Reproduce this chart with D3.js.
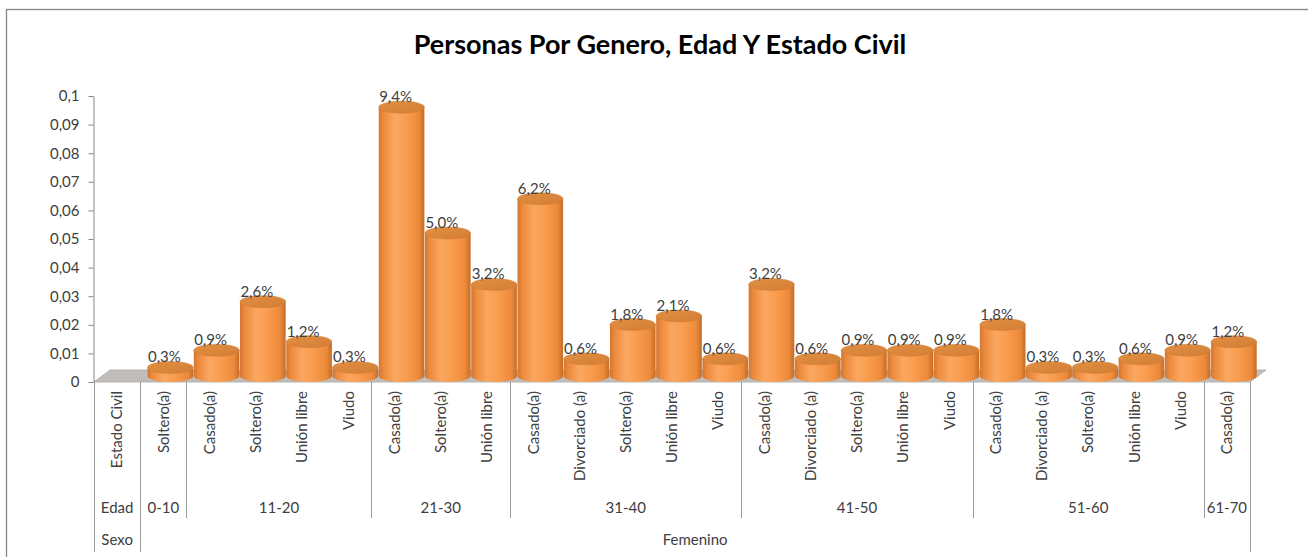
<!DOCTYPE html>
<html>
<head>
<meta charset="utf-8">
<script src="https://cdn.jsdelivr.net/npm/d3@7"></script>
<style>
  html, body { margin: 0; padding: 0; background: #ffffff; }
  svg { display: block; }
  text { font-family: Lato, "Open Sans", sans-serif; }
</style>
</head>
<body>
<svg id="chart" width="1308" height="557"></svg>
<script>
// ---- data ----
const title = "Personas Por Genero, Edad Y Estado Civil";
const estadoCivil = ["Estado Civil","Soltero(a)","Casado(a)","Soltero(a)","Unión libre","Viudo",
  "Casado(a)","Soltero(a)","Unión libre",
  "Casado(a)","Divorciado (a)","Soltero(a)","Unión libre","Viudo",
  "Casado(a)","Divorciado (a)","Soltero(a)","Unión libre","Viudo",
  "Casado(a)","Divorciado (a)","Soltero(a)","Unión libre","Viudo",
  "Casado(a)"];
const values = [null,0.003,0.009,0.026,0.012,0.003,
  0.094,0.050,0.032,
  0.062,0.006,0.018,0.021,0.006,
  0.032,0.006,0.009,0.009,0.009,
  0.018,0.003,0.003,0.006,0.009,
  0.012];
const edadLabels = ["0-10","11-20","21-30","31-40","41-50","51-60","61-70"];
const edadCounts = [1,4,3,5,5,5,1];
const sexoLabel = "Femenino";
const yTicks = [0,0.01,0.02,0.03,0.04,0.05,0.06,0.07,0.08,0.09,0.1];

// ---- layout ----
const svg = d3.select("#chart");
const x0 = 94, x1 = 1250, yBase = 382, yTop = 96;
const depthX = 16, depthY = 12;
const FS = 15;
const locale = d3.formatLocale({decimal: ",", thousands: ".", grouping: [3], currency: ["", "€"]});
const fmtTick = locale.format("~g");
const fmtPct = locale.format(".1%");

const x = d3.scaleBand().domain(d3.range(estadoCivil.length)).range([x0, x1]).padding(0);
const y = d3.scaleLinear().domain([0, 0.1]).range([yBase, yTop]);

// defs
const defs = svg.append("defs");
const gBody = defs.append("linearGradient").attr("id", "body").attr("x1", "0").attr("x2", "1").attr("y1", "0").attr("y2", "0");
[[0,"#d27630"],[0.1,"#ec8a3c"],[0.35,"#fba760"],[0.6,"#f99c4e"],[0.88,"#ec8a3a"],[1,"#c46c27"]]
  .forEach(([o,c]) => gBody.append("stop").attr("offset", o).attr("stop-color", c));
const gTop = defs.append("linearGradient").attr("id", "top").attr("x1", "0").attr("x2", "1").attr("y1", "0").attr("y2", "1");
[[0,"#e29043"],[1,"#d27d35"]].forEach(([o,c]) => gTop.append("stop").attr("offset", o).attr("stop-color", c));

// outer border
svg.append("rect").attr("x", 6.5).attr("y", 9.5).attr("width", 1330).attr("height", 600)
  .attr("fill", "none").attr("stroke", "#868686").attr("stroke-width", 1.3);

// title
const t = svg.append("text").attr("x", 660).attr("y", 54).attr("text-anchor", "middle")
  .attr("font-weight", "bold").attr("font-size", 24).attr("fill", "#000").text(title);
const tl = t.node().getComputedTextLength();
t.attr("font-size", 24 * 493 / tl);

// floor
svg.append("polygon")
  .attr("points", [[x0, yBase],[x1, yBase],[x1 + depthX, yBase - depthY],[x0 + depthX, yBase - depthY]].map(p => p.join(",")).join(" "))
  .attr("fill", "#c0bdba").attr("stroke", "#a8a8a8").attr("stroke-width", 0.8);

// y axis
const yAxis = d3.axisLeft(y).tickValues(yTicks).tickFormat(fmtTick).tickSize(5).tickSizeOuter(0).tickPadding(9);
const ga = svg.append("g").attr("transform", `translate(${x0 - 0.5},0)`).call(yAxis);
ga.select(".domain").attr("stroke", "#868686");
ga.selectAll(".tick line").attr("stroke", "#868686");
ga.selectAll(".tick text").attr("font-size", FS).attr("fill", "#404040").attr("font-family", "Lato, sans-serif");

// bars (cylinders)
const bw = x.bandwidth();
const rx = bw / 2 - 0.3, ry = 6;
const shiftX = depthX / 2 - 1, shiftY = depthY / 2;
const bars = svg.append("g");
values.forEach((v, i) => {
  if (v == null) return;
  const left = x(i) + shiftX;
  const cx = left + bw / 2;
  const yb = yBase - shiftY;
  const yt = y(v) - shiftY;
  const g = bars.append("g");
  g.append("path")
    .attr("d", `M${cx - rx},${yt} L${cx - rx},${yb} A${rx},${ry} 0 0 0 ${cx + rx},${yb} L${cx + rx},${yt} Z`)
    .attr("fill", "url(#body)");
  g.append("ellipse").attr("cx", cx).attr("cy", yt).attr("rx", rx).attr("ry", ry)
    .attr("fill", "url(#top)").attr("stroke", "#d07a33").attr("stroke-width", 0.5);
});

// data labels
svg.append("g").selectAll("text").data(values.map((v, i) => ({v, i})).filter(d => d.v != null))
  .join("text")
  .attr("x", d => x(d.i) + bw / 2 + 1)
  .attr("y", d => y(d.v) - 11)
  .attr("text-anchor", "middle").attr("font-size", FS).attr("fill", "#404040")
  .text(d => fmtPct(d.v));

// table lines
const lineColor = "#9a9a9a";
const tbl = svg.append("g").attr("stroke", lineColor).attr("stroke-width", 1);
[x0, x(1), x1].forEach(xx => tbl.append("line").attr("x1", Math.round(xx) + 0.5).attr("x2", Math.round(xx) + 0.5).attr("y1", yBase).attr("y2", 552));
let idx = 1;
const groupStarts = [];
edadCounts.forEach(c => { groupStarts.push(idx); idx += c; });
groupStarts.slice(1).forEach(s => {
  const xx = Math.round(x(s)) + 0.5;
  tbl.append("line").attr("x1", xx).attr("x2", xx).attr("y1", yBase).attr("y2", 518);
});

// estado civil labels (rotated)
svg.append("g").selectAll("text").data(estadoCivil).join("text")
  .attr("transform", (d, i) => `translate(${x(i) + bw / 2},391) rotate(-90)`)
  .attr("text-anchor", "end").attr("dy", "0.35em")
  .attr("font-size", FS).attr("fill", "#404040").text(d => d);

// edad row
svg.append("text").attr("x", x(0) + bw / 2).attr("y", 513).attr("text-anchor", "middle")
  .attr("font-size", FS).attr("fill", "#404040").text("Edad");
edadLabels.forEach((lab, k) => {
  const s = groupStarts[k], e = s + edadCounts[k];
  const xs = x(s), xe = e < estadoCivil.length ? x(e) : x1;
  svg.append("text").attr("x", (xs + xe) / 2).attr("y", 513).attr("text-anchor", "middle")
    .attr("font-size", FS).attr("fill", "#404040").text(lab);
});

// sexo row
svg.append("text").attr("x", x(0) + bw / 2).attr("y", 545).attr("text-anchor", "middle")
  .attr("font-size", FS).attr("fill", "#404040").text("Sexo");
svg.append("text").attr("x", (x(1) + x1) / 2).attr("y", 545).attr("text-anchor", "middle")
  .attr("font-size", FS).attr("fill", "#404040").text(sexoLabel);
</script>
</body>
</html>
